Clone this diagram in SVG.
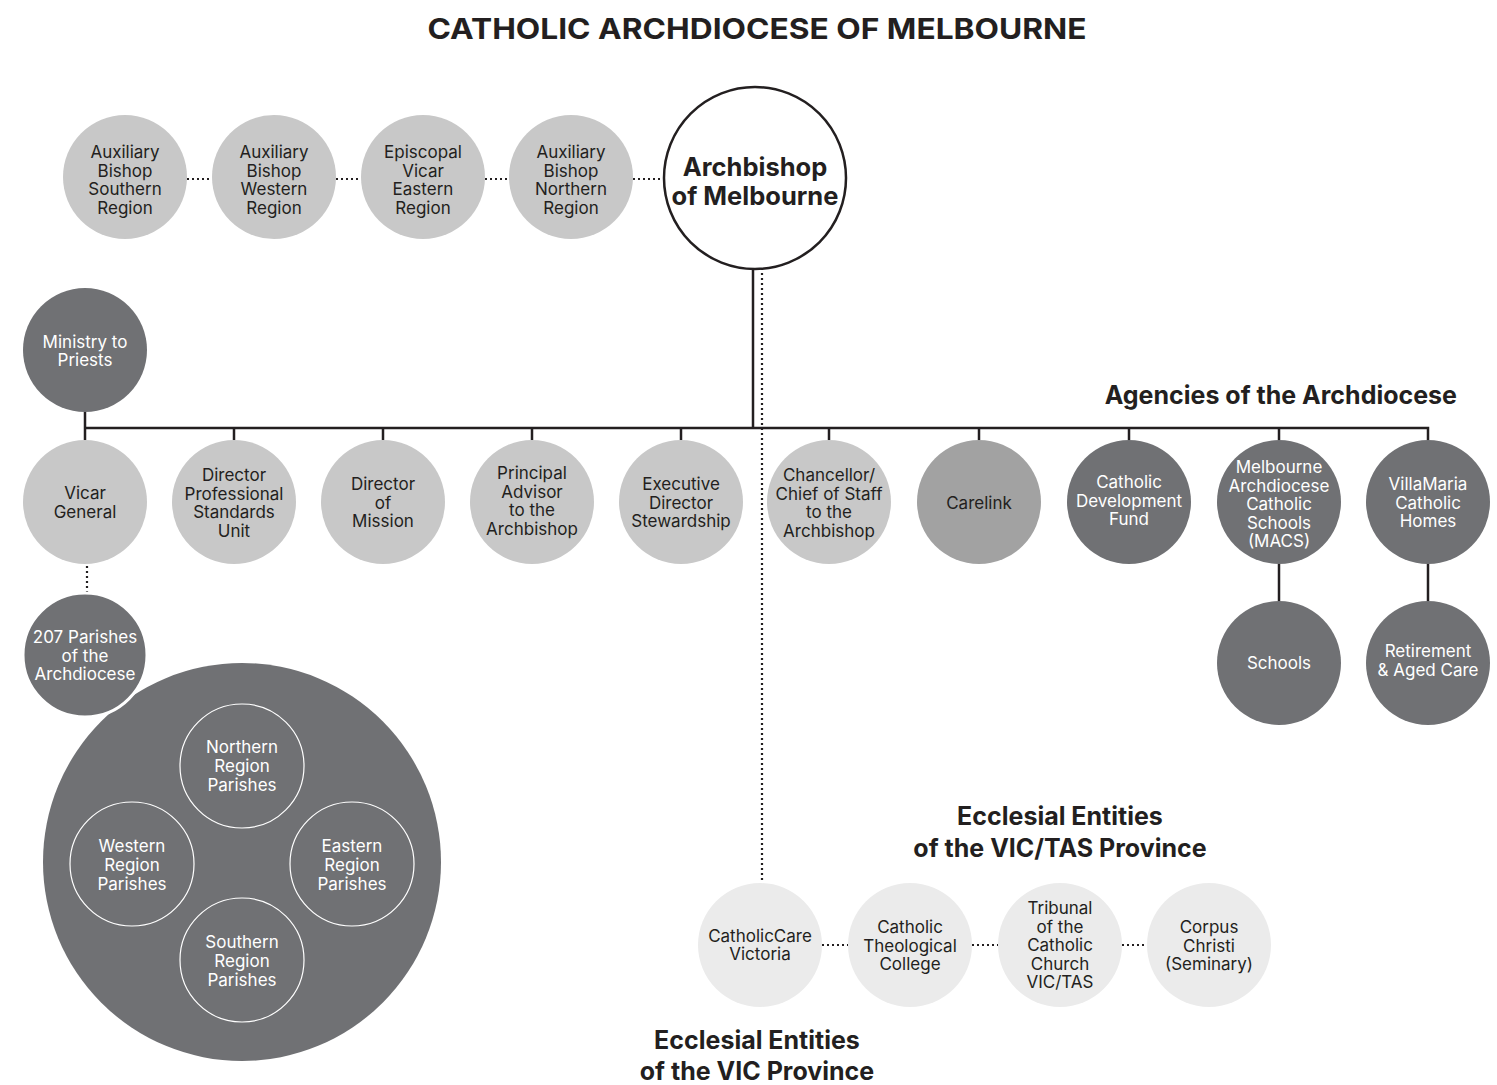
<svg xmlns="http://www.w3.org/2000/svg" width="1497" height="1085" viewBox="0 0 1497 1085">
  <defs>
    <style>
      .bg { fill: #ffffff; }
      .light { fill: #c8c8c8; }
      .mid { fill: #a2a2a2; }
      .dark { fill: #707174; }
      .pale { fill: #ebebeb; }
      .head { fill: #ffffff; stroke: #231f20; stroke-width: 2.5; }
      .ring { fill: none; stroke: #ffffff; stroke-width: 1.2; }
      .t { font-family: Inter, "Liberation Sans", sans-serif; font-size: 17px; text-anchor: middle; fill: #231f20; }
      .w { fill: #ffffff; }
      .b { font-family: Inter, "Liberation Sans", sans-serif; font-weight: 700; text-anchor: middle; fill: #231f20; }
      .solid { fill: none; stroke: #231f20; stroke-width: 2.5; }
      .dot { fill: none; stroke: #231f20; stroke-width: 2.2; stroke-dasharray: 2 3; }
    </style>
  </defs>

  <rect class="bg" x="0" y="0" width="1497" height="1085"/>

  <!-- Title -->
  <text class="b" x="757" y="39" font-size="29" textLength="659" lengthAdjust="spacingAndGlyphs">CATHOLIC ARCHDIOCESE OF MELBOURNE</text>

  <!-- Connectors -->
  <g id="connectors">
    <line class="dot" x1="187" y1="179" x2="212" y2="179"/>
    <line class="dot" x1="336" y1="179" x2="361" y2="179"/>
    <line class="dot" x1="485" y1="179" x2="509" y2="179"/>
    <line class="dot" x1="633" y1="179" x2="663" y2="179"/>
    <line class="solid" x1="753" y1="268" x2="753" y2="428"/>
    <line class="dot" x1="762" y1="268" x2="762" y2="882"/>
    <path class="solid" d="M85 412 V440 M85 428 H1428 V440"/>
    <line class="solid" x1="234" y1="428" x2="234" y2="440"/>
    <line class="solid" x1="383" y1="428" x2="383" y2="440"/>
    <line class="solid" x1="532" y1="428" x2="532" y2="440"/>
    <line class="solid" x1="681" y1="428" x2="681" y2="440"/>
    <line class="solid" x1="829" y1="428" x2="829" y2="440"/>
    <line class="solid" x1="979" y1="428" x2="979" y2="440"/>
    <line class="solid" x1="1129" y1="428" x2="1129" y2="440"/>
    <line class="solid" x1="1279" y1="428" x2="1279" y2="440"/>
    <line class="solid" x1="1279" y1="564" x2="1279" y2="601"/>
    <line class="solid" x1="1428" y1="564" x2="1428" y2="601"/>
    <line class="dot" x1="87" y1="566" x2="87" y2="593"/>
    <line class="dot" x1="822" y1="945" x2="848" y2="945"/>
    <line class="dot" x1="972" y1="945" x2="998" y2="945"/>
    <line class="dot" x1="1122" y1="945" x2="1147" y2="945"/>
  </g>

  <!-- Top row -->
  <g id="aux-southern">
    <circle class="light" cx="125" cy="177" r="62"/>
    <text class="t"><tspan x="125" y="158">Auxiliary</tspan><tspan x="125" y="176.5">Bishop</tspan><tspan x="125" y="195">Southern</tspan><tspan x="125" y="213.5">Region</tspan></text>
  </g>
  <g id="aux-western">
    <circle class="light" cx="274" cy="177" r="62"/>
    <text class="t"><tspan x="274" y="158">Auxiliary</tspan><tspan x="274" y="176.5">Bishop</tspan><tspan x="274" y="195">Western</tspan><tspan x="274" y="213.5">Region</tspan></text>
  </g>
  <g id="episcopal-eastern">
    <circle class="light" cx="423" cy="177" r="62"/>
    <text class="t"><tspan x="423" y="158">Episcopal</tspan><tspan x="423" y="176.5">Vicar</tspan><tspan x="423" y="195">Eastern</tspan><tspan x="423" y="213.5">Region</tspan></text>
  </g>
  <g id="aux-northern">
    <circle class="light" cx="571" cy="177" r="62"/>
    <text class="t"><tspan x="571" y="158">Auxiliary</tspan><tspan x="571" y="176.5">Bishop</tspan><tspan x="571" y="195">Northern</tspan><tspan x="571" y="213.5">Region</tspan></text>
  </g>
  <g id="archbishop">
    <circle class="head" cx="755" cy="178" r="91"/>
    <text class="b" font-size="25.5"><tspan x="755" y="176">Archbishop</tspan><tspan x="755" y="205">of Melbourne</tspan></text>
  </g>

  <!-- Ministry to Priests -->
  <g id="ministry-priests">
    <circle class="dark" cx="85" cy="350" r="62"/>
    <text class="t w"><tspan x="85" y="348">Ministry to</tspan><tspan x="85" y="366">Priests</tspan></text>
  </g>

  <!-- Second row -->
  <g id="vicar-general">
    <circle class="light" cx="85" cy="502" r="62"/>
    <text class="t"><tspan x="85" y="499">Vicar</tspan><tspan x="85" y="518">General</tspan></text>
  </g>
  <g id="director-professional-standards">
    <circle class="light" cx="234" cy="502" r="62"/>
    <text class="t"><tspan x="234" y="481">Director</tspan><tspan x="234" y="499.5">Professional</tspan><tspan x="234" y="518">Standards</tspan><tspan x="234" y="536.5">Unit</tspan></text>
  </g>
  <g id="director-mission">
    <circle class="light" cx="383" cy="502" r="62"/>
    <text class="t"><tspan x="383" y="490">Director</tspan><tspan x="383" y="509">of</tspan><tspan x="383" y="527">Mission</tspan></text>
  </g>
  <g id="principal-advisor">
    <circle class="light" cx="532" cy="502" r="62"/>
    <text class="t"><tspan x="532" y="479">Principal</tspan><tspan x="532" y="497.5">Advisor</tspan><tspan x="532" y="516">to the</tspan><tspan x="532" y="534.5">Archbishop</tspan></text>
  </g>
  <g id="executive-director">
    <circle class="light" cx="681" cy="502" r="62"/>
    <text class="t"><tspan x="681" y="490">Executive</tspan><tspan x="681" y="509">Director</tspan><tspan x="681" y="527">Stewardship</tspan></text>
  </g>
  <g id="chancellor">
    <circle class="light" cx="829" cy="502" r="62"/>
    <text class="t"><tspan x="829" y="481">Chancellor/</tspan><tspan x="829" y="499.5">Chief of Staff</tspan><tspan x="829" y="518">to the</tspan><tspan x="829" y="536.5">Archbishop</tspan></text>
  </g>
  <g id="carelink">
    <circle class="mid" cx="979" cy="502" r="62"/>
    <text class="t" x="979" y="509">Carelink</text>
  </g>
  <g id="catholic-development-fund">
    <circle class="dark" cx="1129" cy="502" r="62"/>
    <text class="t w"><tspan x="1129" y="488">Catholic</tspan><tspan x="1129" y="507">Development</tspan><tspan x="1129" y="525">Fund</tspan></text>
  </g>
  <g id="macs">
    <circle class="dark" cx="1279" cy="502" r="62"/>
    <text class="t w"><tspan x="1279" y="473">Melbourne</tspan><tspan x="1279" y="491.5">Archdiocese</tspan><tspan x="1279" y="510">Catholic</tspan><tspan x="1279" y="528.5">Schools</tspan><tspan x="1279" y="547">(MACS)</tspan></text>
  </g>
  <g id="villamaria">
    <circle class="dark" cx="1428" cy="502" r="62"/>
    <text class="t w"><tspan x="1428" y="490">VillaMaria</tspan><tspan x="1428" y="509">Catholic</tspan><tspan x="1428" y="527">Homes</tspan></text>
  </g>
  <g id="schools">
    <circle class="dark" cx="1279" cy="663" r="62"/>
    <text class="t w" x="1279" y="669">Schools</text>
  </g>
  <g id="retirement">
    <circle class="dark" cx="1428" cy="663" r="62"/>
    <text class="t w"><tspan x="1428" y="657">Retirement</tspan><tspan x="1428" y="676">&amp; Aged Care</tspan></text>
  </g>

  <!-- Parishes -->
  <g id="parishes-regions">
    <circle class="dark" cx="242" cy="862" r="199"/>
    <circle class="ring" cx="242" cy="766" r="62"/>
    <text class="t w"><tspan x="242" y="753">Northern</tspan><tspan x="242" y="772">Region</tspan><tspan x="242" y="791">Parishes</tspan></text>
    <circle class="ring" cx="132" cy="864" r="62"/>
    <text class="t w"><tspan x="132" y="852">Western</tspan><tspan x="132" y="871">Region</tspan><tspan x="132" y="890">Parishes</tspan></text>
    <circle class="ring" cx="352" cy="864" r="62"/>
    <text class="t w"><tspan x="352" y="852">Eastern</tspan><tspan x="352" y="871">Region</tspan><tspan x="352" y="890">Parishes</tspan></text>
    <circle class="ring" cx="242" cy="960" r="62"/>
    <text class="t w"><tspan x="242" y="948">Southern</tspan><tspan x="242" y="967">Region</tspan><tspan x="242" y="986">Parishes</tspan></text>
  </g>
  <g id="parishes-207">
    <circle class="dark" cx="85" cy="655" r="62" stroke="#ffffff" stroke-width="3"/>
    <text class="t w"><tspan x="85" y="643">207 Parishes</tspan><tspan x="85" y="662">of the</tspan><tspan x="85" y="680">Archdiocese</tspan></text>
  </g>

  <!-- Headings -->
  <text class="b" x="1457" y="404" font-size="25" style="text-anchor:end">Agencies of the Archdiocese</text>
  <text class="b" font-size="25"><tspan x="1060" y="825">Ecclesial Entities</tspan><tspan x="1060" y="857">of the VIC/TAS Province</tspan></text>
  <text class="b" font-size="25"><tspan x="757" y="1049">Ecclesial Entities</tspan><tspan x="757" y="1080">of the VIC Province</tspan></text>

  <!-- Bottom row -->
  <g id="catholiccare">
    <circle class="pale" cx="760" cy="945" r="62"/>
    <text class="t"><tspan x="760" y="942">CatholicCare</tspan><tspan x="760" y="960">Victoria</tspan></text>
  </g>
  <g id="theological-college">
    <circle class="pale" cx="910" cy="945" r="62"/>
    <text class="t"><tspan x="910" y="933">Catholic</tspan><tspan x="910" y="951.5">Theological</tspan><tspan x="910" y="970">College</tspan></text>
  </g>
  <g id="tribunal">
    <circle class="pale" cx="1060" cy="945" r="62"/>
    <text class="t"><tspan x="1060" y="914">Tribunal</tspan><tspan x="1060" y="933">of the</tspan><tspan x="1060" y="951">Catholic</tspan><tspan x="1060" y="970">Church</tspan><tspan x="1060" y="988">VIC/TAS</tspan></text>
  </g>
  <g id="corpus-christi">
    <circle class="pale" cx="1209" cy="945" r="62"/>
    <text class="t"><tspan x="1209" y="933">Corpus</tspan><tspan x="1209" y="951.5">Christi</tspan><tspan x="1209" y="970">(Seminary)</tspan></text>
  </g>
</svg>
